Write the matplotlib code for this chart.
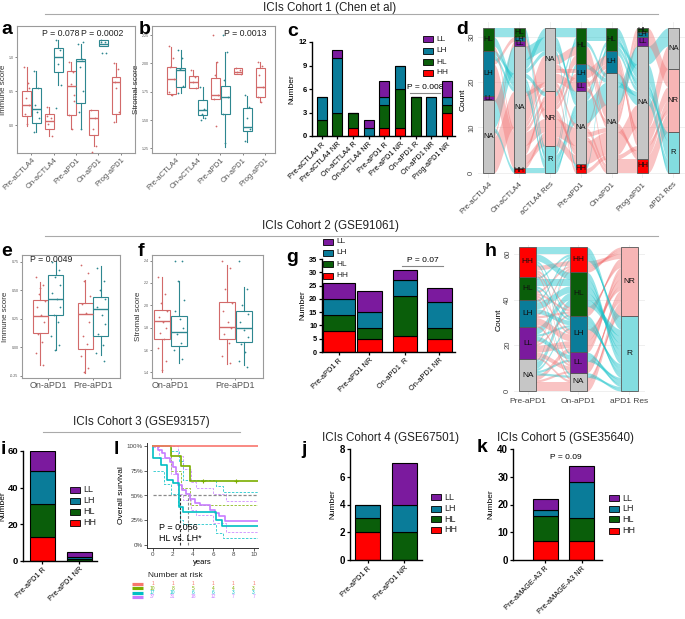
import numpy as np
import matplotlib
matplotlib.use('Agg')
import matplotlib.pyplot as plt
from matplotlib.patches import Rectangle
from matplotlib.lines import Line2D

plt.rcParams['font.family'] = ['Liberation Sans', 'DejaVu Sans']

# ---------------- DATA ----------------
STRATA = ['HH', 'HL', 'LH', 'LL']
# panel a (immune score, cohort 1)
a_groups = ['Pre-aCTLA4', 'On-aCTLA4', 'Pre-aPD1', 'On-aPD1', 'Prog-aPD1']
a_red_q1 = [0.137, -0.06, 0.147, -0.147, 0.17]
a_red_med = [0.30, 0.06, 0.574, 0.098, 0.64]
a_red_q3 = [0.51, 0.17, 0.80, 0.22, 0.71]
a_red_lo = [-0.015, -0.16, -0.05, -0.30, 0.04]
a_red_hi = [0.86, 0.26, 0.93, 0.22, 0.91]
a_teal_q1 = [0.025, 0.79, 0.33, 1.17]
a_teal_med = [0.235, 1.0, 0.94, 1.19]
a_teal_q3 = [0.55, 1.13, 0.97, 1.25]
a_teal_lo = [-0.10, 0.59, -0.05, 1.17]
a_teal_hi = [0.80, 1.25, 1.20, 1.25]
a_red_pts = [[0.86, 0.62, 0.40, 0.30, 0.16, 0.02, 0.55], [0.26, 0.10, 0.02, -0.16, 0.14],
             [0.93, 0.78, 0.60, 0.35, 0.15, -0.05, 0.45], [0.22, 0.10, -0.05, -0.30, -0.40],
             [0.91, 0.83, 0.64, 0.20, 0.04, 0.55]]
a_teal_pts = [[0.80, 0.55, 0.30, 0.10, -0.10, 0.20], [1.25, 1.10, 0.90, 0.59, 0.25],
              [1.20, 0.97, 0.85, 0.50, 0.20, -0.05, 1.22], [1.25, 1.22, 1.06, 1.06, 1.23]]

# panel b (stromal score, cohort 1)
b_red_q1 = [1.727, 1.78, 1.69, 1.91, 1.70]
b_red_med = [1.859, 1.84, 1.72, 1.926, 1.794]
b_red_q3 = [1.97, 1.89, 1.87, 1.956, 1.956]
b_red_lo = [1.72, 1.78, 1.69, 1.91, 1.66]
b_red_hi = [2.147, 1.94, 2.01, 1.96, 2.01]
b_teal_q1 = [1.79, 1.544, 1.553, 1.405]
b_teal_med = [1.94, 1.588, 1.705, 1.435]
b_teal_q3 = [1.96, 1.68, 1.80, 1.603]
b_teal_lo = [1.735, 1.515, 1.264, 1.31]
b_teal_hi = [2.12, 1.79, 2.10, 1.715]
b_red_pts = [[2.15, 2.05, 1.97, 1.86, 1.75, 1.72], [1.94, 1.88, 1.84, 1.78], [2.25, 2.01, 1.90, 1.72, 1.69, 1.45],
             [1.96, 1.94, 1.92, 1.91], [2.01, 1.98, 1.90, 1.79, 1.70, 1.66]]
b_teal_pts = [[2.12, 2.05, 1.95, 1.80, 1.74], [1.79, 1.60, 1.55, 1.52, 1.50], [2.25, 2.10, 1.85, 1.70, 1.55, 1.30],
              [1.72, 1.62, 1.52, 1.42, 1.32]]

# panel c
c_cats = ['Pre-aCTLA4 R', 'Pre-aCTLA4 NR', 'On-aCTLA4 R', 'On-aCTLA4 NR', 'Pre-aPD1 R',
          'Pre-aPD1 NR', 'On-aPD1 R', 'On-aPD1 NR', 'Prog-aPD1 NR']
c_HH = [0, 0, 1, 0, 1, 1, 0, 0, 3]
c_HL = [2, 3, 2, 0, 3, 5, 5, 0, 1]
c_LH = [3, 7, 0, 1, 1, 3, 0, 5, 1]
c_LL = [0, 1, 0, 1, 2, 0, 0, 0, 2]

# panel d (alluvial, one entry per patient)
d_axes = ['Pre-aCTLA4', 'On-aCTLA4', 'aCTLA4 Res', 'Pre-aPD1', 'On-aPD1', 'Prog-aPD1', 'aPD1 Res']
d_pre_ctla4 = ['HL', 'HL', 'LH', 'LH', 'LH', 'LH', 'NA', 'NA', 'LL', 'HL', 'HL', 'HL', 'LH', 'LH', 'LH', 'LH',
               'LH', 'LH'] + ['NA'] * 14
d_on_ctla4 = ['NA', 'HL', 'NA', 'NA', 'NA', 'LH', 'HH', 'LL', 'NA', 'HL'] + ['NA'] * 22
d_ctla4_res = ['R', 'R', 'R', 'NR', 'NR', 'NR', 'R', 'NR', 'NR', 'R', 'R', 'NR', 'NR', 'NR', 'NR', 'NR',
               'NR', 'NR'] + ['NA'] * 14
d_pre_pd1 = ['NA'] * 9 + ['HL', 'LH', 'HL', 'HL', 'LH', 'NA', 'HL', 'NA', 'NA',
                          'HH', 'HH', 'LL', 'LL', 'LH', 'LH', 'HL', 'HL', 'HL', 'HL', 'NA', 'NA', 'NA', 'NA']
d_on_pd1 = ['NA'] * 9 + ['HL', 'NA', 'NA', 'NA', 'LH', 'NA', 'NA', 'NA', 'NA',
                         'NA', 'HL', 'NA', 'LH', 'LH', 'NA', 'HL', 'HL', 'NA', 'NA', 'HL', 'LH', 'LH', 'NA']
d_prog_pd1 = ['NA'] * 9 + ['NA', 'NA', 'NA', 'LL', 'NA', 'HH', 'NA', 'NA', 'HH',
                           'NA', 'NA', 'LL', 'NA', 'NA', 'HH', 'NA', 'NA', 'LH', 'HL', 'NA', 'NA', 'NA', 'NA']
d_pd1_res = ['NA'] * 9 + ['R', 'R', 'NR', 'NR', 'NR', 'NR', 'R', 'NR', 'NR',
                          'NR', 'R', 'NR', 'NR', 'NR', 'NR', 'R', 'R', 'NR', 'NR', 'R', 'R', 'NR', 'R']
d_flow = ['R', 'R', 'R', 'NR', 'NR', 'NR', 'R', 'NR', 'NR', 'R', 'R', 'NR', 'NR', 'NR', 'NR', 'R', 'NR', 'NR',
          'NR', 'R', 'NR', 'NR', 'NR', 'NR', 'R', 'R', 'NR', 'NR', 'R', 'R', 'NR', 'R']

# panel e / f (cohort 2 box plots)
ef_groups = ['On-aPD1', 'Pre-aPD1']
e_red_q1 = [0.125, -0.015]; e_red_med = [0.278, 0.295]; e_red_q3 = [0.413, 0.39]
e_red_lo = [-0.16, -0.23]; e_red_hi = [0.57, 0.59]
e_teal_q1 = [0.287, 0.10]; e_teal_med = [0.424, 0.337]; e_teal_q3 = [0.633, 0.44]
e_teal_lo = [-0.02, -0.065]; e_teal_hi = [0.756, 0.71]
e_red_pts = [[0.62, 0.55, 0.47, 0.41, 0.35, 0.28, 0.22, 0.12, 0.05, -0.05, -0.16, 0.52],
             [0.72, 0.65, 0.58, 0.45, 0.38, 0.30, 0.22, 0.10, 0.03, -0.08, -0.18, -0.22]]
e_teal_pts = [[0.75, 0.68, 0.62, 0.55, 0.48, 0.42, 0.35, 0.28, 0.22, 0.10, 0.02, -0.02],
              [0.70, 0.58, 0.50, 0.42, 0.35, 0.28, 0.20, 0.12, 0.02, -0.05, -0.12]]
f_red_q1 = [1.70, 1.70]; f_red_med = [1.86, 1.81]; f_red_q3 = [1.96, 2.03]
f_red_lo = [1.40, 1.475]; f_red_hi = [2.25, 2.36]
f_teal_q1 = [1.636, 1.67]; f_teal_med = [1.764, 1.80]; f_teal_q3 = [1.905, 1.95]
f_teal_lo = [1.486, 1.466]; f_teal_hi = [2.22, 2.16]
f_red_pts = [[2.25, 2.10, 2.02, 1.95, 1.90, 1.85, 1.80, 1.75, 1.70, 1.62, 1.50, 1.42],
             [2.40, 2.33, 2.15, 2.02, 1.95, 1.85, 1.80, 1.74, 1.66, 1.55, 1.48]]
f_teal_pts = [[2.40, 2.40, 2.22, 2.05, 1.95, 1.88, 1.80, 1.74, 1.66, 1.60, 1.52],
              [2.40, 2.15, 2.00, 1.92, 1.85, 1.78, 1.72, 1.65, 1.58, 1.50, 1.45]]

# panel g
g_cats = ['Pre-aPD1 R', 'Pre-aPD1 NR', 'On-aPD1  R', 'On-aPD1 NR']
g_HH = [8, 5, 6, 5]; g_HL = [6, 4, 15, 4]; g_LH = [6, 6, 6, 10]; g_LL = [6, 8, 4, 5]

# panel h (alluvial; transition counts pre -> on, rows/cols in order HH, HL, LH, LL, NA)
h_axes = ['Pre-aPD1', 'On-aPD1', 'aPD1 Res']
h_states = ['HH', 'HL', 'LH', 'LL', 'NA']
h_R = [[3, 3, 1, 1, 0], [1, 3, 1, 0, 1], [1, 3, 2, 0, 0], [0, 3, 1, 2, 0], [1, 3, 1, 1, 1]]
h_NR = [[2, 1, 1, 1, 0], [1, 1, 1, 0, 1], [1, 1, 3, 1, 0], [1, 1, 3, 2, 1], [0, 0, 2, 1, 4]]

# panel i, j, k
i_cats = ['Pre-aPD1 R', 'Pre-aPD1 NR']
i_HH = [13, 0]; i_HL = [18, 1]; i_LH = [18, 1]; i_LL = [11, 3]
j_cats = ['Pre-aPD1 R', 'Pre-aPD1 NR']
j_HH = [2, 0]; j_HL = [1, 2]; j_LH = [1, 2]; j_LL = [0, 3]
k_cats = ['Pre-aMAGE-A3 R', 'Pre-aMAGE-A3 NR']
k_HH = [7, 7]; k_HL = [9, 8]; k_LH = [2, 13]; k_LL = [4, 6]

# panel l (Kaplan-Meier)
km_HH_t = [0, 10.4]; km_HH_s = [1.0, 1.0]
km_HL_t = [0, 1.8, 2.8, 3.7, 10.4]; km_HL_s = [1.0, 0.9, 0.8, 0.65, 0.65]
km_LH_t = [0, 0.05, 0.8, 1.4, 2.0, 2.6, 3.0, 6.3, 6.9, 10.4]
km_LH_s = [1.0, 0.88, 0.81, 0.66, 0.63, 0.38, 0.33, 0.25, 0.19, 0.19]
km_LL_t = [0, 0.55, 0.9, 1.2, 1.7, 2.0, 2.3, 2.5, 2.9, 3.35, 3.7, 4.2, 4.7, 5.7, 6.2, 6.6, 7.2, 10.4]
km_LL_s = [1.0, 0.96, 0.93, 0.875, 0.84, 0.79, 0.72, 0.61, 0.56, 0.52, 0.46, 0.42, 0.40, 0.35, 0.32, 0.29, 0.24, 0.24]
ci_HL_lo_t = [0, 1.8, 2.8, 3.7, 10.4]; ci_HL_lo_s = [1.0, 0.75, 0.58, 0.40, 0.40]
ci_LH_hi_t = [0, 1.8, 2.6, 3.0, 6.3, 7.0, 10.4]; ci_LH_hi_s = [1.0, 0.95, 0.85, 0.66, 0.60, 0.54, 0.54]
ci_LH_lo_t = [0, 1.1, 1.8, 2.5, 2.7, 3.0, 6.3, 7.0, 10.4]; ci_LH_lo_s = [0.75, 0.62, 0.52, 0.40, 0.25, 0.21, 0.12, 0.07, 0.07]
ci_LL_hi_t = [0, 2.5, 3.0, 3.8, 4.3, 6.0, 7.3, 10.4]; ci_LL_hi_s = [1.0, 0.9, 0.77, 0.64, 0.58, 0.52, 0.44, 0.44]
ci_LL_lo_t = [0, 0.6, 1.8, 2.5, 3.0, 3.8, 4.3, 6.0, 7.3, 10.4]
ci_LL_lo_s = [0.99, 0.88, 0.72, 0.52, 0.45, 0.35, 0.30, 0.22, 0.13, 0.13]
risk_times = [0, 2, 4, 6, 8, 10]
risk_HH = [1, 1, 1, 1, 1, 1]
risk_HL = [10, 8, 5, 4, 4, 3]
risk_LH = [17, 10, 6, 6, 3, 3]
risk_LL = [37, 31, 18, 12, 7, 7]

# ---------------- STYLE ----------------
W, H = 685, 619
COL = {'HH': '#FF0000', 'HL': '#0A5E0A', 'LH': '#0A7C99', 'LL': '#7B1A9E', 'NA': '#C6C6C6',
       'R': '#83DDE0', 'NR': '#F7B5B5'}
FLOW = {'R': '#19C3CA', 'NR': '#F27A7A'}
RED, TEAL = '#D26A6A', '#2E8790'
KMC = {'HH': '#F8766D', 'HL': '#7CAE00', 'LH': '#00BFC4', 'LL': '#C77CFF'}
JIT = [-0.12, 0.08, -0.04, 0.13, -0.10, 0.02, 0.11, -0.07, 0.05, -0.13, 0.09, -0.02]
TITLE_FS = 8.4

fig = plt.figure(figsize=(W / 100, H / 100), dpi=100)


def add_ax(l, t, r, b):
    return fig.add_axes([l / W, 1 - b / H, (r - l) / W, (b - t) / H])


def ftext(x, y, s, **kw):
    fig.text(x / W, 1 - y / H, s, **kw)


def fline(x0, x1, y, **kw):
    fig.add_artist(Line2D([x0 / W, x1 / W], [1 - y / H, 1 - y / H], transform=fig.transFigure, **kw))


def legend_px(x, ys, labels, w=10, h=6, fs=6):
    for y, lab in zip(ys, labels):
        fig.add_artist(Rectangle((x / W, 1 - (y + h / 2) / H), w / W, h / H, transform=fig.transFigure,
                                 facecolor=COL[lab], edgecolor='black', lw=0.6))
        ftext(x + w + 3, y, lab, fontsize=fs, va='center', color='#222')


def boxpanel(ax, groups, red, teal, red_pts, teal_pts, bw, ylim, yticks, yticklabels, ylabel, xlim,
             rot=True):
    for vals, pts, col, off in ((red, red_pts, RED, -bw / 2), (teal, teal_pts, TEAL, bw / 2)):
        q1, med, q3, lo, hi = vals
        stats = [dict(q1=q1[i], med=med[i], q3=q3[i], whislo=lo[i], whishi=hi[i]) for i in range(len(q1))]
        pos = [i + off for i in range(len(q1))]
        ax.bxp(stats, positions=pos, widths=bw * 0.95, showfliers=False, showcaps=False, patch_artist=True,
               boxprops=dict(facecolor='white', edgecolor=col, lw=0.8),
               medianprops=dict(color=col, lw=1.0), whiskerprops=dict(color=col, lw=0.8),
               manage_ticks=False)
        for i, p in enumerate(pts):
            xs = [pos[i] + JIT[m % len(JIT)] * bw * 2.2 for m in range(len(p))]
            ax.scatter(xs, p, s=1.6, color=col, zorder=4, lw=0)
    ax.set_xlim(*xlim)
    ax.set_ylim(*ylim)
    ax.set_yticks(yticks)
    ax.set_yticklabels(yticklabels, fontsize=2.6)
    ax.set_xticks(range(len(groups)))
    if rot:
        ax.set_xticklabels(groups, rotation=45, ha='right', rotation_mode='anchor', fontsize=5.5, color='#333')
    else:
        ax.set_xticklabels(groups, fontsize=6.5, color='#333')
    ax.set_ylabel(ylabel, fontsize=5.8, labelpad=1, color='#333')
    for s in ax.spines.values():
        s.set_color('#9a9a9a')
        s.set_linewidth(0.8)
    ax.tick_params(length=1.5, width=0.5, pad=1, colors='#555')


def prism(ax, yticks, ylabel, fs=5.5, lp=2):
    for s in ('top', 'right'):
        ax.spines[s].set_visible(False)
    for s in ('left', 'bottom'):
        ax.spines[s].set_linewidth(1.0)
    ax.set_yticks(yticks)
    ax.set_yticklabels([str(t) for t in yticks], fontsize=fs, fontweight='bold')
    ax.tick_params(length=2.5, width=0.9, pad=1)
    if ylabel:
        ax.set_ylabel(ylabel, fontsize=6, labelpad=lp)


def stacked(ax, cats, layers, xpos, widths):
    bottom = np.zeros(len(cats))
    for lab, vals in zip(STRATA, layers):
        ax.bar(xpos, vals, widths, bottom=bottom, color=COL[lab], edgecolor='black', lw=0.8, zorder=2)
        bottom += np.array(vals)
    ax.set_xticks(xpos)
    ax.set_xticklabels(cats, rotation=45, ha='right', rotation_mode='anchor', fontsize=5.3)


def alluvial(ax, axes_vals, flows, orders, width, fs=5.5):
    K = len(axes_vals)
    n = len(flows)
    pos = []
    for k in range(K):
        pk = {}
        y = 0.0
        for cat in orders[k]:
            mem = [p for p in range(n) if axes_vals[k][p] == cat]

            def key(p, k=k):
                nxt = orders[k + 1].index(axes_vals[k + 1][p]) if k + 1 < K else 0
                prv = orders[k - 1].index(axes_vals[k - 1][p]) if k > 0 else 0
                return (flows[p], nxt, prv)
            mem.sort(key=key)
            y0 = y
            for p in mem:
                pk[p] = y
                y += 1
            if mem:
                ax.add_patch(Rectangle((k - width / 2, y0), width, y - y0, facecolor=COL[cat],
                                       edgecolor='#555555', lw=0.6, zorder=3))
                ax.text(k, (y0 + y) / 2, cat, ha='center', va='center', fontsize=fs, zorder=4, color='#111')
        pos.append(pk)
    t = np.linspace(0, 1, 40)
    s = t * t * (3 - 2 * t)
    for k in range(K - 1):
        x = (k + width / 2) + (1 - width) * t
        order = sorted(range(n), key=lambda p: pos[k][p])
        runs = []
        for p in order:
            if runs and flows[runs[-1][-1]] == flows[p] and pos[k + 1][p] == pos[k + 1][runs[-1][-1]] + 1:
                runs[-1].append(p)
            else:
                runs.append([p])
        for r in runs:
            y0 = pos[k][r[0]]
            y1 = pos[k + 1][r[0]]
            yb = y0 + (y1 - y0) * s
            ax.fill_between(x, yb, yb + len(r), color=FLOW[flows[r[0]]], alpha=0.45, lw=0, zorder=1)


def minimal(ax):
    for s in ax.spines.values():
        s.set_visible(False)
    ax.grid(True, color='#ececec', lw=0.6)
    ax.set_axisbelow(True)
    ax.tick_params(length=0, pad=2, labelsize=5.5, labelcolor='#444')


# ---------------- TITLES ----------------
ftext(330, 8, 'ICIs Cohort 1 (Chen et al)', fontsize=TITLE_FS, ha='center', va='center', color='#222')
fline(45, 658, 14, color='#aaaaaa', lw=0.8)
ftext(330, 226, 'ICIs Cohort 2 (GSE91061)', fontsize=TITLE_FS, ha='center', va='center', color='#222')
fline(45, 658, 236, color='#aaaaaa', lw=0.8)
ftext(141, 422, 'ICIs Cohort 3 (GSE93157)', fontsize=TITLE_FS, ha='center', va='center', color='#222')
fline(43, 240, 432, color='#aaaaaa', lw=0.8)
ftext(391, 438, 'ICIs Cohort 4 (GSE67501)', fontsize=TITLE_FS, ha='center', va='center', color='#222')
ftext(565, 438, 'ICIs Cohort 5 (GSE35640)', fontsize=TITLE_FS, ha='center', va='center', color='#222')

for lab, x, y in [('a', 1, 30), ('b', 139, 30), ('c', 287, 32), ('d', 456, 29), ('e', 1, 252), ('f', 138, 252),
                  ('g', 286, 257), ('h', 485, 251), ('i', 1, 450), ('l', 114, 449), ('j', 301, 450),
                  ('k', 477, 447)]:
    ftext(x, y, lab, fontsize=14, fontweight='bold', va='center', ha='left')

# ---------------- PANEL a ----------------
ax = add_ax(17, 26, 135, 153)
boxpanel(ax, a_groups, (a_red_q1, a_red_med, a_red_q3, a_red_lo, a_red_hi),
         (a_teal_q1, a_teal_med, a_teal_q3, a_teal_lo, a_teal_hi), a_red_pts, a_teal_pts, 0.42,
         (-0.41, 1.46), [0, 0.5, 1.0], ['0.0', '0.5', '1.0'], 'Immune score', (-0.65, 4.64))
ftext(61, 33, 'P = 0.078', fontsize=6.3, ha='center', va='center', color='#222')
ftext(102, 33, 'P = 0.0002', fontsize=6.3, ha='center', va='center', color='#222')

# ---------------- PANEL b ----------------
ax = add_ax(152, 26, 275, 153)
boxpanel(ax, a_groups, (b_red_q1, b_red_med, b_red_q3, b_red_lo, b_red_hi),
         (b_teal_q1, b_teal_med, b_teal_q3, b_teal_lo, b_teal_hi), b_red_pts, b_teal_pts, 0.42,
         (1.21, 2.33), [1.25, 1.5, 1.75, 2.0, 2.25], ['1.25', '1.50', '1.75', '2.00', '2.25'],
         'Stromal score', (-1.07, 4.45))
ftext(245, 33, 'P = 0.0013', fontsize=6.3, ha='center', va='center', color='#222')

# ---------------- PANEL c ----------------
ax = add_ax(312, 42, 455, 136)
stacked(ax, c_cats, [c_HH, c_HL, c_LH, c_LL], np.arange(len(c_cats)), 0.64)
ax.set_xlim(-0.62, 8.51)
ax.set_ylim(0, 12)
prism(ax, [0, 3, 6, 9, 12], 'Number')
ax.plot([5.64, 7.56], [5.5, 5.5], color='#888', lw=0.8, clip_on=False)
ax.text(6.6, 5.7, 'P = 0.008', fontsize=6, ha='center', va='bottom')
legend_px(423, [39.3, 50.7, 62, 72.7], ['LL', 'LH', 'HL', 'HH'])

# ---------------- PANEL d ----------------
ax = add_ax(478, 22, 685, 178)
d_vals = [d_pre_ctla4, d_on_ctla4, d_ctla4_res, d_pre_pd1, d_on_pd1, d_prog_pd1, d_pd1_res]
ord_s = ['HH', 'NA', 'LL', 'LH', 'HL']
ord_r = ['R', 'NR', 'NA']
alluvial(ax, d_vals, d_flow, [ord_s, ord_s, ord_r, ord_s, ord_s, ord_s, ord_r], 0.34, fs=5.5)
minimal(ax)
ax.set_xlim(-0.34, 6.38)
ax.set_ylim(-1.17, 33.3)
ax.set_xticks(range(len(d_axes)))
ax.set_xticklabels(d_axes, rotation=45, ha='right', rotation_mode='anchor')
ax.set_yticks([0, 10, 20, 30])
ax.set_yticklabels(['0', '10', '20', '30'], rotation=90, va='center')
ax.set_ylabel('Count', fontsize=6, labelpad=1)

# ---------------- PANEL e ----------------
ax = add_ax(22, 255, 120, 378)
boxpanel(ax, ef_groups, (e_red_q1, e_red_med, e_red_q3, e_red_lo, e_red_hi),
         (e_teal_q1, e_teal_med, e_teal_q3, e_teal_lo, e_teal_hi), e_red_pts, e_teal_pts, 0.35,
         (-0.27, 0.81), [-0.25, 0, 0.25, 0.5, 0.75], ['-0.25', '0.00', '0.25', '0.50', '0.75'],
         'Immune score', (-0.58, 1.6), rot=False)
ftext(51, 260, 'P = 0.0049', fontsize=6.3, ha='center', va='center', color='#222')

# ---------------- PANEL f ----------------
ax = add_ax(152, 255, 263, 378)
boxpanel(ax, ef_groups, (f_red_q1, f_red_med, f_red_q3, f_red_lo, f_red_hi),
         (f_teal_q1, f_teal_med, f_teal_q3, f_teal_lo, f_teal_hi), f_red_pts, f_teal_pts, 0.26,
         (1.35, 2.45), [1.4, 1.6, 1.8, 2.0, 2.2, 2.4], ['1.4', '1.6', '1.8', '2.0', '2.2', '2.4'],
         'Stromal score', (-0.29, 1.43), rot=False)

# ---------------- PANEL g ----------------
ax = add_ax(322, 259, 455, 352)
g_pos = np.array([0.486, 1.357, 2.363, 3.357])
g_w = [0.93, 0.70, 0.69, 0.70]
stacked(ax, g_cats, [g_HH, g_HL, g_LH, g_LL], g_pos, g_w)
ax.set_xlim(0, 3.8)
ax.set_ylim(0, 35)
prism(ax, [0, 5, 10, 15, 20, 25, 30, 35], 'Number', fs=5.3)
ax.plot([2.28, 3.46], [32.5, 32.5], color='#888', lw=0.8, clip_on=False)
ax.text(2.87, 33.2, 'P = 0.07', fontsize=6, ha='center', va='bottom')
legend_px(323, [241.7, 253, 264, 275.7], ['LL', 'LH', 'HL', 'HH'])

# ---------------- PANEL h ----------------
ax = add_ax(514, 245, 645, 395)
h_pre, h_on, h_res, h_flow = [], [], [], []
for resp, mat in (('R', h_R), ('NR', h_NR)):
    for i, row in enumerate(mat):
        for j, cnt in enumerate(row):
            for _ in range(cnt):
                h_pre.append(h_states[i]); h_on.append(h_states[j]); h_res.append(resp); h_flow.append(resp)
ord_h = ['NA', 'LL', 'LH', 'HL', 'HH']
alluvial(ax, [h_pre, h_on, h_res], h_flow, [ord_h, ord_h, ['R', 'NR']], 0.33, fs=6)
minimal(ax)
ax.set_xlim(-0.27, 2.31)
ax.set_ylim(-1.75, 63.9)
ax.set_xticks(range(3))
ax.set_xticklabels(h_axes, fontsize=6)
ax.set_yticks([0, 20, 40, 60])
ax.set_yticklabels(['0', '20', '40', '60'], rotation=90, va='center')
ax.set_ylabel('Count', fontsize=6, labelpad=1)

# ---------------- PANEL i ----------------
ax = add_ax(23, 451, 97, 561)
stacked(ax, i_cats, [i_HH, i_HL, i_LH, i_LL], np.arange(2), 0.68)
ax.set_xlim(-0.53, 1.49)
ax.set_ylim(0, 60)
prism(ax, [0, 20, 40, 60], 'Number', fs=6.8, lp=0.5)
legend_px(70, [490, 500.7, 511.7, 522.7], ['LL', 'LH', 'HL', 'HH'], fs=6.5)

# ---------------- PANEL l (KM) ----------------
ax = add_ax(147, 443, 258, 548)
for t, s, c in ((ci_HL_lo_t, ci_HL_lo_s, KMC['HL']), (ci_LH_hi_t, ci_LH_hi_s, KMC['LH']),
                (ci_LH_lo_t, ci_LH_lo_s, KMC['LH']), (ci_LL_hi_t, ci_LL_hi_s, KMC['LL']),
                (ci_LL_lo_t, ci_LL_lo_s, KMC['LL'])):
    ax.step(t, s, where='post', color=c, lw=0.7, ls=(0, (2.5, 1.5)), alpha=0.75)
ax.plot([0, 10.4], [0.5, 0.5], color='#8a8a8a', lw=0.9, ls=(0, (2.5, 1.5)))
ax.plot([2.7, 2.7], [0, 0.5], color='#333', lw=0.8, ls=(0, (2.5, 1.5)))
ax.plot([3.45, 3.45], [0, 0.5], color='#8a8a8a', lw=0.8, ls=(0, (2.5, 1.5)))
for t, s, c in ((km_LL_t, km_LL_s, KMC['LL']), (km_LH_t, km_LH_s, KMC['LH']),
                (km_HL_t, km_HL_s, KMC['HL']), (km_HH_t, km_HH_s, KMC['HH'])):
    ax.step(t, s, where='post', color=c, lw=1.2)
ax.plot([5.0, 8.3], [0.65, 0.65], ls='none', marker='+', ms=3, color=KMC['HL'], mew=0.8)
ax.set_xlim(-0.56, 10.43)
ax.set_ylim(-0.03, 1.03)
ax.set_xticks([0, 2, 4, 6, 8, 10])
ax.set_yticks([0, 0.25, 0.5, 0.75, 1.0])
ax.set_yticklabels(['0%', '25%', '50%', '75%', '100%'])
ax.tick_params(labelsize=4.5, length=2, width=0.6, pad=1, colors='#444')
for s in ('top', 'right'):
    ax.spines[s].set_visible(False)
for s in ('left', 'bottom'):
    ax.spines[s].set_color('#333')
    ax.spines[s].set_linewidth(0.7)
ax.set_xlabel('years', fontsize=5.5, labelpad=1)
ax.set_ylabel('Overall survival', fontsize=6, labelpad=1)
ax.text(0.6, 0.18, 'P = 0.056', fontsize=6.5, va='center')
ax.text(0.6, 0.07, 'HL vs. LH*', fontsize=6.5, va='center')

rax = add_ax(147, 570, 258, 602)
rax.set_xlim(-0.56, 10.43)
rax.set_ylim(602, 570)
rax.axis('off')
rax.text(-0.45, 575.5, 'Number at risk', fontsize=6, va='center', color='#222')
for lab, vals, y in (('HH', risk_HH, 583.5), ('HL', risk_HL, 588), ('LH', risk_LH, 592.5), ('LL', risk_LL, 597)):
    rax.plot([-2.05, -0.96], [y, y], color=KMC[lab], lw=2.3, clip_on=False, solid_capstyle='butt')
    for t, v in zip(risk_times, vals):
        rax.text(t, y, str(v), fontsize=3.5, color=KMC[lab], ha='center', va='center')

# ---------------- PANEL j ----------------
ax = add_ax(350, 449, 422, 560)
stacked(ax, j_cats, [j_HH, j_HL, j_LH, j_LL], np.arange(2), 0.67)
ax.set_xlim(-0.48, 1.48)
ax.set_ylim(0, 8)
prism(ax, [0, 2, 4, 6, 8], 'Number', fs=7)
legend_px(431, [497.3, 508.7, 519.3, 530], ['LL', 'LH', 'HL', 'HH'], fs=6.5)

# ---------------- PANEL k ----------------
ax = add_ax(513, 449, 602, 560)
stacked(ax, k_cats, [k_HH, k_HL, k_LH, k_LL], np.arange(2), 0.68)
ax.set_xlim(-0.88, 1.55)
ax.set_ylim(0, 40)
prism(ax, [0, 10, 20, 30, 40], 'Number', fs=7)
ax.text(0.55, 35.5, 'P = 0.09', fontsize=6, ha='center', va='bottom')
legend_px(609, [498.3, 508.7, 519.3, 530.7], ['LL', 'LH', 'HL', 'HH'], fs=6.5)

fig.savefig('out.png', dpi=100)
